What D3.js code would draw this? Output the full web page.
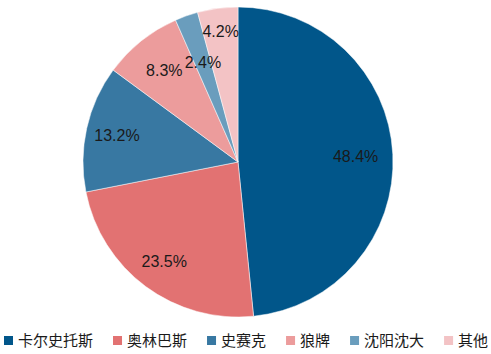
<!DOCTYPE html>
<html>
<head>
<meta charset="utf-8">
<script src="https://cdn.jsdelivr.net/npm/d3@7"></script>
<style>
  body { margin: 0; background: #fff; }
  svg { display: block; }
</style>
</head>
<body>
<div class="chart"></div>
<script>
const categories = ['卡尔史托斯', '奥林巴斯', '史赛克', '狼牌', '沈阳沈大', '其他'];
const shares = [48.4, 23.5, 13.2, 8.3, 2.4, 4.2];
const colors = ['#01568a', '#e27272', '#3878a2', '#ec9c9c', '#6a9dbd', '#f3c3c5'];
// where each label sits, as a fraction of the radius
const labelRadius = [0.76, 0.8, 0.8, 0.76, 0.68, 0.85];

const width = 491;
const height = 354;
const radius = 155;
const cx = 238;
const cy = 162;

const svg = d3
  .select('.chart')
  .append('svg')
  .attr('width', width)
  .attr('height', height);

const g = svg.append('g').attr('transform', `translate(${cx},${cy})`);

const pie = d3.pie().sort(null).value(d => d);
const arcs = pie(shares);
const arc = d3.arc().innerRadius(0).outerRadius(radius);

g.selectAll('path')
  .data(arcs)
  .enter()
  .append('path')
  .attr('d', arc)
  .attr('fill', (d, i) => colors[i])
  .attr('stroke', '#fff')
  .attr('stroke-width', 0.5);

g.selectAll('text')
  .data(arcs)
  .enter()
  .append('text')
  .attr('transform', (d, i) => {
    const r = radius * labelRadius[i];
    const a = (d.startAngle + d.endAngle) / 2;
    return `translate(${r * Math.sin(a)},${-r * Math.cos(a)})`;
  })
  .attr('text-anchor', 'middle')
  .attr('dy', '0.35em')
  .attr('font-family', 'Liberation Sans, Arial, sans-serif')
  .attr('font-size', 16)
  .attr('fill', '#1a1a1a')
  .text(d => d.data.toFixed(1) + '%');

// legend
const legend = svg.append('g').attr('transform', 'translate(4,341)');
let x = 0;
categories.forEach((name, i) => {
  const item = legend.append('g').attr('transform', `translate(${x},0)`);
  item.append('rect')
    .attr('x', 0)
    .attr('y', -5)
    .attr('width', 9)
    .attr('height', 9)
    .attr('fill', colors[i]);
  const t = item.append('text')
    .attr('x', 14)
    .attr('y', 0)
    .attr('dy', '0.35em')
    .attr('font-family', 'Noto Sans CJK SC, sans-serif')
    .attr('font-size', 15)
    .attr('fill', '#1a1a1a')
    .text(name);
  x += 14 + t.node().getComputedTextLength() + 20;
});
</script>
</body>
</html>
